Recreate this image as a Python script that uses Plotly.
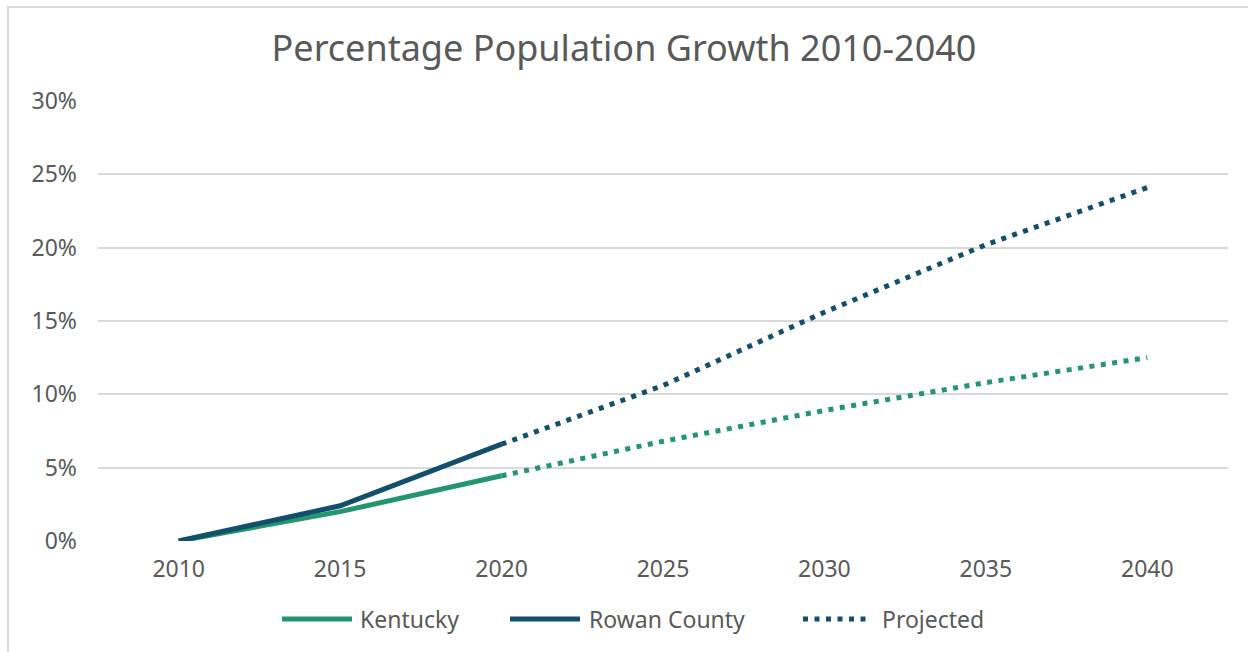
import plotly.graph_objects as go

years = ["2010", "2015", "2020", "2025", "2030", "2035", "2040"]
kentucky = [0.0, 2.0, 4.45, 6.8, 8.9, 10.8, 12.5]
rowan = [0.0, 2.4, 6.6, 10.6, 15.6, 20.2, 24.1]
y_ticks = [0, 5, 10, 15, 20, 25, 30]
y_tick_labels = ["0%", "5%", "10%", "15%", "20%", "25%", "30%"]

GREEN = "#22966C"
BLUE = "#124F6A"
GRAY_TEXT = "#595959"
GRID = "#D9D9D9"
FONT = "Noto Sans, Open Sans, sans-serif"
DOT = "5px,6.5px"

split = years.index("2020")

fig = go.Figure()
fig.add_trace(go.Scatter(x=years[:split + 1], y=kentucky[:split + 1], mode="lines",
                         name="Kentucky", line=dict(color=GREEN, width=5), showlegend=False))
fig.add_trace(go.Scatter(x=years[:split + 1], y=rowan[:split + 1], mode="lines",
                         name="Rowan County", line=dict(color=BLUE, width=5), showlegend=False))
fig.add_trace(go.Scatter(x=years[split:], y=kentucky[split:], mode="lines",
                         name="Kentucky projected", showlegend=False,
                         line=dict(color=GREEN, width=5, dash=DOT)))
fig.add_trace(go.Scatter(x=years[split:], y=rowan[split:], mode="lines",
                         name="Projected", showlegend=False,
                         line=dict(color=BLUE, width=5, dash=DOT)))

L, R, T, B = 98, 20, 101, 111
W, H = 1248, 652
pw, ph = W - L - R, H - T - B


def px(x):
    return (x - L) / pw


def py(y):
    return (H - B - y) / ph


# outer chart border (only top and left visible in the frame)
fig.add_shape(type="rect", xref="paper", yref="paper",
              x0=px(8), x1=px(W + 20), y0=py(H + 20), y1=py(7),
              line=dict(color=GRID, width=2), fillcolor="rgba(0,0,0,0)", layer="below")

# custom legend
legend_items = [
    ("Kentucky", GREEN, None, 282, 352, 358),
    ("Rowan County", BLUE, None, 510, 580, 587),
    ("Projected", BLUE, DOT, 803, 870, 880),
]
ly = 619
for label, color, dash, x0, x1, tx in legend_items:
    fig.add_shape(type="line", xref="paper", yref="paper",
                  x0=px(x0), x1=px(x1), y0=py(ly), y1=py(ly),
                  line=dict(color=color, width=5, dash=dash))
    fig.add_annotation(text=label, xref="paper", yref="paper", x=px(tx), y=py(ly),
                       xanchor="left", yanchor="middle", showarrow=False,
                       font=dict(size=23, color=GRAY_TEXT, family=FONT))

fig.update_layout(
    width=W, height=H,
    margin=dict(l=L, r=R, t=T, b=B),
    paper_bgcolor="white", plot_bgcolor="white",
    font=dict(family=FONT, color=GRAY_TEXT, size=23),
    title=dict(text="Percentage Population Growth 2010-2040", x=0.5, xanchor="center",
               y=1 - 48 / H, yanchor="middle",
               font=dict(size=36, color=GRAY_TEXT, family=FONT)),
    xaxis=dict(type="category", categoryorder="array", categoryarray=years,
               range=[-0.5, len(years) - 0.5],
               showgrid=False, zeroline=False, showline=False,
               tickfont=dict(size=23, color=GRAY_TEXT), ticks="", ticklabelstandoff=12),
    yaxis=dict(range=[0, 30], tickvals=y_ticks, ticktext=y_tick_labels,
               showgrid=True, gridcolor=GRID, gridwidth=2, zeroline=False, showline=False,
               tickfont=dict(size=23, color=GRAY_TEXT), ticks="", ticklabelstandoff=20),
    showlegend=False,
)

fig.write_html("out.html")
